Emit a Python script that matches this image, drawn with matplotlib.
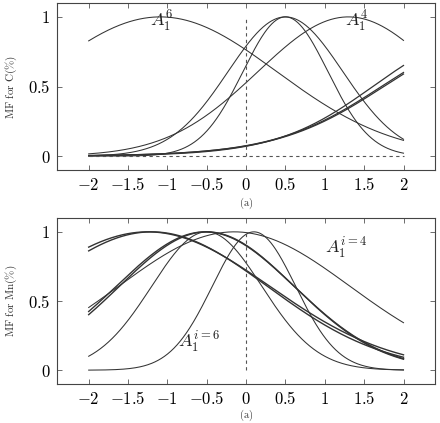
import numpy as np
import matplotlib
matplotlib.use('Agg')
import matplotlib.pyplot as plt

plt.rcParams['mathtext.fontset'] = 'cm'
plt.rcParams['font.family'] = 'DejaVu Serif'

# Fonctions d'appartenance pour C (panneau du haut) : gaussiennes + sigmoides
c_gauss_center = [-1.09, 1.30, 0.50, 0.50]
c_gauss_sigma = [1.48, 1.15, 0.73, 0.54]
c_sig_center = [1.61, 1.72, 1.75]
c_sig_slope = [1.60, 1.46, 1.45]

# Fonctions d'appartenance pour Mn (panneau du bas)
mn_gauss_center = [-1.25, -1.20, -0.52, -0.50, -0.15, -0.50, 0.10]
mn_gauss_sigma = [1.55, 1.47, 1.13, 1.11, 1.47, 0.70, 0.53]

xticks = [-2, -1.5, -1, -0.5, 0, 0.5, 1, 1.5, 2]
yticks = [0, 0.5, 1]

x = np.linspace(-2, 2, 400)
line_col = '#333333'


def gauss(x, c, s):
    return np.exp(-(x - c) ** 2 / (2 * s ** 2))


def sigm(x, c, a):
    return 1 / (1 + np.exp(-a * (x - c)))


def style_axes(ax, ylabel, cap_y):
    ax.set_xlim(-2.4, 2.4)
    ax.set_ylim(-0.1, 1.1)
    ax.set_xticks(xticks)
    ax.set_xticklabels(['$%g$' % t if t >= 0 else '$-%g$' % -t for t in xticks])
    ax.set_yticks(yticks)
    ax.set_yticklabels(['$%g$' % t for t in yticks])
    ax.tick_params(direction='in', length=3.5, width=0.6, color='#555555',
                   top=True, right=True, labelsize=12, pad=5)
    for sp in ax.spines.values():
        sp.set_color('#444444')
        sp.set_linewidth(0.8)
    ax.set_ylabel(ylabel, fontsize=8, color='#333333', labelpad=6)
    ax.text(0.5, cap_y, r'$\mathrm{(a)}$', transform=ax.transAxes,
            ha='center', va='center', fontsize=7.5, color='#333333')


fig = plt.figure(figsize=(4.4, 4.23), dpi=100)
ax1 = fig.add_axes([0.13, 0.598, 0.8586, 0.395])
ax2 = fig.add_axes([0.13, 0.0922, 0.8586, 0.3924])

# Panneau du haut
for c, s in zip(c_gauss_center, c_gauss_sigma):
    ax1.plot(x, gauss(x, c, s), color=line_col, lw=0.75)
for c, a in zip(c_sig_center, c_sig_slope):
    ax1.plot(x, sigm(x, c, a), color=line_col, lw=0.9)
ax1.plot([0, 0], [0, 1], color='#555555', lw=0.8, ls=(0, (3, 3)))
ax1.plot([-2, 2], [0, 0], color='#555555', lw=0.8, ls=(0, (3, 3)))
ax1.text(-1.07, 0.965, '$A_1^6$', fontsize=13, ha='center', va='center', color='#222222')
ax1.text(1.4, 0.965, '$A_1^4$', fontsize=13, ha='center', va='center', color='#222222')
style_axes(ax1, r'$\mathrm{MF\ for\ C(\%)}$', -0.2)

# Panneau du bas (les quatre premieres courbes sont plus epaisses)
for i, (c, s) in enumerate(zip(mn_gauss_center, mn_gauss_sigma)):
    ax2.plot(x, gauss(x, c, s), color=line_col, lw=1.0 if i < 4 else 0.75)
ax2.plot([0, 0], [0, 1], color='#555555', lw=0.8, ls=(0, (3, 3)))
ax2.text(1.27, 0.88, '$A_1^{i=4}$', fontsize=13, ha='center', va='center', color='#222222')
ax2.text(-0.6, 0.2, '$A_1^{i=6}$', fontsize=13, ha='center', va='center', color='#222222')
style_axes(ax2, r'$\mathrm{MF\ for\ Mn(\%)}$', -0.19)

fig.savefig('out.png', dpi=100)
